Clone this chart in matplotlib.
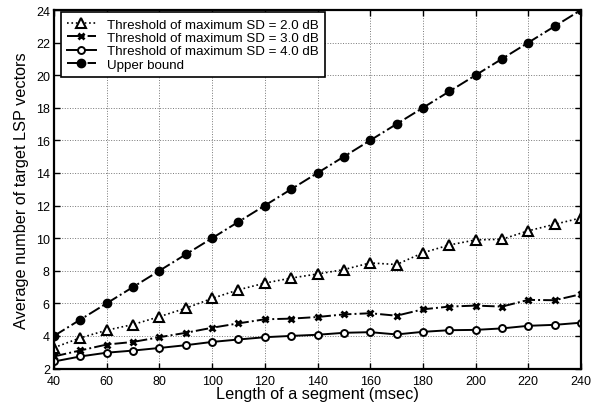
import matplotlib
matplotlib.use("Agg")
import matplotlib.pyplot as plt

plt.rcParams['font.family'] = ['Liberation Sans', 'DejaVu Sans']

x = [40, 50, 60, 70, 80, 90, 100, 110, 120, 130, 140, 150, 160, 170, 180, 190, 200, 210, 220, 230, 240]
sd20 = [3.28, 3.88, 4.35, 4.7, 5.18, 5.7, 6.3, 6.83, 7.24, 7.55, 7.8, 8.07, 8.48, 8.38, 9.1, 9.58, 9.89, 9.93, 10.45, 10.85, 11.24]
sd30 = [2.74, 3.11, 3.47, 3.63, 3.92, 4.19, 4.5, 4.77, 5.02, 5.06, 5.16, 5.32, 5.39, 5.24, 5.63, 5.8, 5.86, 5.8, 6.21, 6.19, 6.56]
sd40 = [2.43, 2.74, 2.97, 3.1, 3.26, 3.43, 3.63, 3.78, 3.92, 4.0, 4.07, 4.19, 4.23, 4.09, 4.25, 4.35, 4.37, 4.46, 4.62, 4.68, 4.81]
upper = [4, 5, 6, 7, 8, 9, 10, 11, 12, 13, 14, 15, 16, 17, 18, 19, 20, 21, 22, 23, 24]
labels = ['Threshold of maximum SD = 2.0 dB', 'Threshold of maximum SD = 3.0 dB',
          'Threshold of maximum SD = 4.0 dB', 'Upper bound']
xticks = list(range(40, 241, 20))
yticks = list(range(2, 25, 2))

W, H = 602, 406
fig = plt.figure(figsize=(W / 100, H / 100), dpi=100)
left, right, top, bottom = 54, 581, 11, 369.5
ax = fig.add_axes([left / W, 1 - bottom / H, (right - left) / W, (bottom - top) / H])

ax.plot(x, sd20, color='black', linestyle=':', linewidth=1.2, marker='^', markersize=7,
        markerfacecolor='white', markeredgecolor='black', markeredgewidth=1.5, label=labels[0])
ax.plot(x, sd30, color='black', linestyle='-.', linewidth=1.4, marker='x', markersize=5,
        markeredgewidth=2, label=labels[1])
ax.plot(x, sd40, color='black', linestyle='-', linewidth=1.4, marker='o', markersize=5,
        markerfacecolor='white', markeredgecolor='black', markeredgewidth=1.4, label=labels[2])
ax.plot(x, upper, color='black', linestyle='-.', linewidth=1.4, marker='o', markersize=6,
        markerfacecolor='black', label=labels[3])

ax.set_xlim(40, 240)
ax.set_ylim(2, 24)
ax.set_xticks(xticks)
ax.set_yticks(yticks)
ax.grid(True, linestyle=':', color='#777777', linewidth=0.7)
ax.tick_params(direction='in', top=True, right=True, length=4, width=1, labelsize=9)
ax.tick_params(axis='x', pad=5)
ax.tick_params(axis='y', pad=3)
for s in ax.spines.values():
    s.set_linewidth(1.6)

ax.set_xlabel('Length of a segment (msec)', fontsize=11.7, labelpad=-1)
ax.set_ylabel('Average number of target LSP vectors', fontsize=11.7, labelpad=5)

leg = ax.legend(loc='upper left', bbox_to_anchor=(60.7 / W, 1 - 13.3 / H),
                bbox_transform=fig.transFigure, borderaxespad=0,
                fontsize=9.6, frameon=True, fancybox=False, framealpha=1,
                edgecolor='black', borderpad=0.45, labelspacing=0.08, handlelength=2.2,
                handletextpad=0.8)
leg.get_frame().set_linewidth(1.2)

fig.savefig('out.png', dpi=100)
